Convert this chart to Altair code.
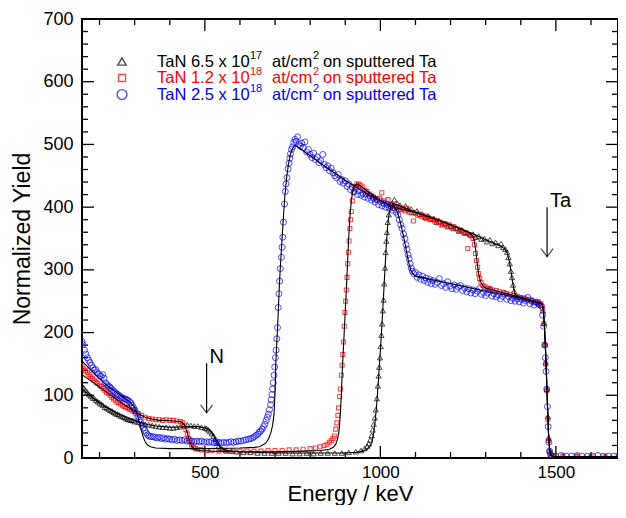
import altair as alt
import pandas as pd

# ---------------- data ----------------
# TaN 6.5e17 (black triangles)
tri_energy = [
    150, 155, 160, 165, 170, 175, 180, 185, 190, 195,
    200, 205, 210, 215, 220, 225, 230, 235, 240, 245,
    250, 255, 260, 265, 270, 275, 280, 285, 290, 295,
    300, 310, 320, 330, 340, 350, 360, 370, 380, 390,
    400, 410, 420, 430, 440, 450, 460, 470, 480, 490,
    500, 505, 510, 515, 520, 525, 530, 535, 540, 545,
    550, 560, 575, 590, 610, 630, 650, 670, 690, 710,
    730, 750, 770, 790, 810, 830, 850, 870, 890, 910,
    930, 945, 955, 962, 967, 971, 975, 978, 981, 984,
    987, 990, 993, 995, 997, 999, 1001, 1003, 1005, 1007,
    1009, 1011, 1013, 1015, 1017, 1019, 1021, 1024, 1028, 1033,
    1040, 1048, 1056, 1064, 1072, 1080, 1088, 1096, 1104, 1112,
    1120, 1128, 1136, 1144, 1152, 1160, 1168, 1176, 1184, 1192,
    1200, 1208, 1216, 1224, 1232, 1240, 1248, 1256, 1264, 1272,
    1280, 1288, 1296, 1304, 1312, 1320, 1328, 1336, 1344, 1350,
    1356, 1361, 1365, 1369, 1372, 1375, 1378, 1381, 1385, 1392,
    1400, 1410, 1420, 1430, 1440, 1450, 1458, 1463, 1466, 1469,
    1471, 1474, 1477, 1479, 1482, 1486, 1495, 1520, 1560, 1600,
    1640, 1680,
]
tri_yield = [
    115, 112, 108, 105, 101, 99, 96, 95, 92, 90,
    88, 86, 84, 81, 80, 78, 76, 75, 73, 71,
    70, 69, 67, 66, 65, 63, 62, 61, 60, 60,
    58, 57, 55, 54, 53, 52, 51, 50, 49, 49,
    48, 48, 49, 50, 52, 53, 52, 51, 51, 49,
    48, 47, 45, 42, 39, 35, 30, 24, 19, 16,
    14, 12, 11, 10, 9, 9, 8, 8, 8, 8,
    8, 7, 7, 8, 7, 8, 8, 8, 8, 9,
    10, 12, 15, 19, 23, 29, 36, 45, 54, 64,
    77, 95, 115, 131, 145, 160, 178, 196, 214, 235,
    252, 278, 303, 328, 346, 360, 376, 388, 399, 406,
    412, 406, 403, 399, 402, 396, 397, 392, 394, 389,
    389, 384, 386, 381, 382, 376, 378, 372, 374, 369,
    370, 366, 367, 362, 364, 359, 360, 356, 357, 352,
    354, 349, 350, 345, 348, 342, 344, 339, 342, 336,
    333, 328, 320, 310, 298, 288, 276, 266, 259, 257,
    256, 254, 253, 251, 249, 248, 244, 235, 215, 182,
    152, 110, 66, 32, 12, 5, 3, 3, 3, 2,
    2, 2,
]

# TaN 1.2e18 (red squares)
sq_energy = [
    150, 155, 160, 165, 170, 175, 180, 185, 190, 195,
    200, 205, 210, 215, 220, 225, 230, 235, 240, 245,
    250, 255, 260, 265, 270, 275, 280, 285, 290, 295,
    300, 310, 320, 330, 340, 350, 360, 370, 380, 390,
    400, 410, 420, 430, 437, 442, 446, 450, 454, 458,
    462, 467, 473, 480, 490, 505, 520, 540, 560, 580,
    600, 620, 640, 660, 680, 700, 720, 740, 760, 780,
    800, 815, 828, 840, 848, 855, 860, 865, 869, 873,
    876, 879, 881, 884, 886, 889, 891, 893, 895, 897,
    899, 901, 903, 905, 907, 909, 911, 913, 915, 917,
    920, 924, 928, 933, 938, 944, 950, 956, 962, 968,
    974, 980, 986, 992, 998, 1004, 1010, 1016, 1022, 1028,
    1034, 1040, 1046, 1052, 1058, 1064, 1070, 1076, 1082, 1088,
    1094, 1100, 1106, 1112, 1118, 1124, 1130, 1136, 1142, 1148,
    1154, 1160, 1166, 1172, 1178, 1184, 1190, 1196, 1202, 1208,
    1214, 1220, 1226, 1232, 1238, 1244, 1249, 1254, 1259, 1264,
    1268, 1271, 1274, 1277, 1280, 1283, 1287, 1292, 1298, 1305,
    1312, 1320, 1330, 1340, 1350, 1360, 1370, 1380, 1390, 1400,
    1410, 1420, 1430, 1440, 1450, 1457, 1462, 1466, 1469, 1471,
    1474, 1477, 1479, 1482, 1486, 1495, 1520, 1560, 1600, 1640,
    1680,
]
sq_yield = [
    146, 142, 139, 136, 133, 130, 127, 124, 121, 119,
    116, 114, 111, 108, 105, 103, 100, 97, 94, 92,
    89, 88, 86, 84, 82, 81, 80, 78, 77, 75,
    74, 71, 68, 65, 63, 62, 61, 61, 60, 61,
    60, 60, 59, 58, 56, 51, 45, 38, 31, 26,
    21, 17, 15, 14, 13, 12, 12, 11, 11, 11,
    11, 11, 11, 11, 12, 12, 12, 13, 13, 14,
    15, 16, 18, 20, 22, 25, 28, 31, 35, 46,
    56, 68, 80, 98, 110, 132, 148, 165, 185, 210,
    232, 250, 268, 288, 310, 328, 346, 366, 380, 393,
    410, 424, 432, 437, 437, 435, 432, 427, 425, 421,
    419, 416, 413, 411, 414, 423, 410, 406, 412, 404,
    403, 401, 399, 400, 396, 397, 394, 398, 392, 391,
    378, 390, 387, 388, 385, 386, 382, 384, 380, 381,
    378, 379, 375, 376, 373, 374, 370, 372, 368, 369,
    366, 365, 363, 362, 360, 358, 334, 356, 354, 350,
    340, 326, 315, 304, 294, 286, 280, 275, 273, 271,
    270, 268, 267, 265, 264, 262, 261, 259, 258, 256,
    255, 253, 252, 250, 249, 246, 238, 214, 180, 150,
    108, 62, 28, 10, 4, 3, 3, 3, 2, 2,
    2,
]

# TaN 2.5e18 (blue circles)
circ_energy = [
    150, 153, 157, 161, 165, 169, 173, 177, 181, 185,
    189, 193, 197, 201, 205, 209, 213, 217, 221, 225,
    229, 233, 237, 241, 245, 249, 253, 257, 261, 265,
    269, 273, 277, 281, 285, 289, 293, 297, 301, 305,
    309, 313, 317, 321, 325, 329, 333, 337, 341, 346,
    352, 358, 364, 370, 376, 382, 388, 394, 400, 407,
    414, 421, 428, 435, 442, 449, 456, 463, 470, 477,
    484, 491, 498, 505, 512, 519, 526, 533, 540, 547,
    554, 561, 568, 575, 582, 589, 596, 603, 610, 617,
    624, 630, 636, 641, 646, 651, 655, 659, 663, 667,
    671, 675, 678, 681, 684, 687, 689, 691, 693, 695,
    697, 699, 701, 703, 705, 707, 709, 711, 713, 715,
    718, 720, 722, 724, 727, 729, 731, 734, 737, 740,
    742, 744, 747, 750, 753, 757, 760, 764, 768, 772,
    776, 780, 785, 790, 795, 800, 805, 810, 815, 820,
    825, 830, 836, 840, 845, 850, 855, 860, 865, 870,
    875, 880, 885, 890, 895, 900, 905, 910, 915, 920,
    925, 930, 935, 940, 945, 950, 955, 960, 965, 970,
    975, 980, 985, 990, 995, 1000, 1005, 1010, 1015, 1020,
    1025, 1030, 1035, 1040, 1045, 1050, 1054, 1058, 1062, 1066,
    1070, 1073, 1076, 1079, 1082, 1085, 1088, 1091, 1095, 1100,
    1105, 1110, 1115, 1120, 1125, 1130, 1135, 1140, 1145, 1150,
    1156, 1162, 1168, 1174, 1180, 1186, 1192, 1198, 1204, 1210,
    1216, 1222, 1228, 1234, 1240, 1246, 1252, 1258, 1264, 1270,
    1276, 1282, 1288, 1294, 1300, 1306, 1312, 1318, 1324, 1330,
    1336, 1342, 1348, 1354, 1360, 1366, 1372, 1378, 1384, 1390,
    1396, 1402, 1408, 1414, 1420, 1426, 1432, 1438, 1444, 1450,
    1455, 1459, 1462, 1465, 1468, 1470, 1472, 1474, 1476, 1478,
    1480, 1482, 1485, 1490, 1500, 1515, 1530, 1545, 1560, 1575,
    1590, 1605, 1620, 1635, 1650, 1665, 1680, 1695,
]
circ_yield = [
    186, 181, 172, 166, 160, 156, 152, 148, 144, 140,
    141, 136, 134, 131, 130, 133, 127, 120, 117, 115,
    113, 111, 108, 106, 104, 102, 101, 99, 97, 96,
    95, 94, 93, 92, 90, 88, 84, 80, 76, 71,
    66, 61, 57, 52, 48, 44, 40, 37, 35, 34,
    34, 33, 32, 33, 31, 32, 30, 31, 30, 29,
    30, 28, 29, 28, 29, 27, 28, 27, 26, 27,
    26, 27, 25, 26, 25, 26, 24, 25, 25, 24,
    25, 24, 25, 26, 25, 26, 27, 27, 28, 29,
    30, 31, 32, 34, 36, 38, 41, 43, 46, 50,
    54, 60, 65, 70, 77, 85, 93, 101, 110, 120,
    132, 145, 160, 172, 190, 208, 240, 262, 282, 302,
    320, 336, 352, 376, 405, 425, 437, 447, 461, 470,
    478, 485, 492, 496, 503, 508, 505, 512, 500, 497,
    502, 495, 504, 488, 492, 484, 479, 486, 476, 480,
    471, 474, 484, 468, 463, 466, 458, 462, 455, 450,
    447, 452, 441, 444, 438, 442, 433, 437, 428, 432,
    424, 430, 420, 426, 419, 422, 416, 421, 414, 418,
    411, 415, 408, 412, 404, 409, 402, 406, 400, 404,
    398, 402, 395, 399, 392, 388, 380, 372, 366, 357,
    350, 340, 333, 324, 318, 310, 303, 298, 294, 296,
    288, 292, 285, 290, 283, 287, 280, 285, 278, 283,
    277, 280, 286, 275, 278, 272, 281, 274, 270, 276,
    269, 273, 275, 267, 271, 265, 270, 263, 268, 262,
    266, 270, 261, 264, 259, 263, 268, 258, 262, 257,
    260, 254, 258, 262, 253, 257, 251, 255, 250, 254,
    249, 253, 247, 251, 256, 246, 250, 244, 248, 246,
    244, 242, 228, 210, 180, 160, 138, 110, 82, 50,
    25, 11, 5, 3, 3, 4, 3, 3, 4, 3,
    3, 3, 4, 3, 3, 3, 4, 3,
]

# simulated fits (thin black lines)
fit_tri_energy = [
    150, 165, 180, 200, 220, 240, 260, 280, 300, 320,
    340, 360, 380, 400, 420, 440, 460, 480, 500, 510,
    518, 525, 532, 540, 548, 560, 600, 700, 800, 900,
    930, 950, 962, 970, 976, 981, 985, 989, 993, 997,
    1001, 1005, 1009, 1013, 1017, 1021, 1025, 1030, 1036, 1045,
    1100, 1200, 1270, 1300, 1340, 1355, 1362, 1368, 1373, 1378,
    1383, 1390, 1460, 1464, 1467, 1470, 1473, 1476, 1479, 1482,
    1486, 1495, 1700,
]
fit_tri_yield = [
    110, 103, 96, 88, 81, 75, 69, 64, 60, 56,
    53, 51, 50, 49, 49, 50, 50, 50, 48, 46,
    42, 36, 28, 20, 15, 12, 10, 8, 8, 8,
    9, 11, 14, 18, 25, 40, 58, 82, 112, 145,
    180, 218, 258, 300, 340, 372, 390, 401, 406, 404,
    392, 372, 356, 348, 339, 333, 326, 312, 294, 276,
    262, 257, 246, 238, 215, 180, 135, 85, 40, 14,
    4, 2, 2,
]
fit_sq_energy = [
    150, 170, 190, 210, 230, 250, 270, 290, 310, 330,
    350, 370, 390, 410, 430, 438, 444, 450, 456, 462,
    470, 485, 520, 600, 700, 780, 830, 855, 866, 873,
    878, 882, 885, 888, 890, 892, 895, 897, 900, 902,
    905, 908, 911, 914, 918, 923, 929, 936, 950, 1000,
    1050, 1100, 1150, 1200, 1250, 1262, 1267, 1272, 1276, 1280,
    1285, 1292, 1300, 1400, 1460, 1464, 1467, 1470, 1473, 1476,
    1479, 1482, 1486, 1495, 1700,
]
fit_sq_yield = [
    133, 125, 117, 109, 101, 93, 85, 78, 71, 65,
    62, 60, 60, 59, 58, 56, 50, 40, 28, 19,
    14, 12, 11, 10, 10, 11, 12, 14, 17, 22,
    30, 42, 62, 92, 118, 146, 178, 200, 235, 255,
    292, 330, 363, 390, 414, 429, 436, 437, 431, 410,
    398, 392, 383, 372, 360, 355, 348, 330, 310, 294,
    282, 275, 271, 256, 246, 238, 215, 180, 135, 85,
    40, 14, 4, 2, 2,
]
fit_circ_energy = [
    150, 170, 190, 210, 230, 250, 270, 290, 300, 306,
    312, 318, 324, 330, 336, 345, 360, 400, 500, 600,
    640, 656, 666, 674, 682, 688, 693, 697, 700, 702,
    705, 707, 710, 713, 716, 720, 724, 728, 733, 738,
    744, 750, 756, 762, 780, 800, 850, 900, 950, 1000,
    1040, 1047, 1054, 1061, 1068, 1075, 1081, 1087, 1093, 1100,
    1200, 1300, 1400, 1460, 1464, 1467, 1470, 1473, 1476, 1479,
    1482, 1486, 1495, 1700,
]
fit_circ_yield = [
    155, 143, 132, 121, 112, 104, 96, 87, 81, 72,
    60, 46, 34, 26, 21, 18, 16, 15, 15, 16,
    17, 18, 21, 24, 31, 40, 52, 70, 105, 150,
    185, 205, 245, 283, 314, 350, 386, 418, 447, 468,
    485, 494, 498, 497, 490, 482, 462, 443, 425, 410,
    400, 394, 382, 366, 348, 328, 311, 299, 293, 290,
    278, 266, 255, 246, 238, 215, 180, 135, 85, 40,
    14, 4, 2, 2,
]

# legend: film dose (mantissa, exponent) and colours / symbols
legend_mantissa = ["6.5", "1.2", "2.5"]
legend_exponent = ["17", "18", "18"]
legend_colors = ["black", "red", "blue"]
legend_shapes = ["triangle-up", "square", "circle"]

# annotation arrows: element, energy, arrow top, arrow tip
arrow_labels = ["N", "Ta"]
arrow_energy = [505, 1475]
arrow_top = [151, 400]
arrow_tip = [72, 321]

x_ticks_major = [500, 1000, 1500]
x_ticks_minor = [200, 300, 400, 600, 700, 800, 900, 1100, 1200, 1300, 1400, 1600]
y_ticks_major = [0, 100, 200, 300, 400, 500, 600, 700]
y_ticks_minor = [v for v in range(20, 700, 20) if v % 100 != 0]

# ---------------- chart ----------------
FONT = "Liberation Sans, Arial, Helvetica, sans-serif"
# the reference's frame runs past the right edge of the picture; the visible
# part (150 .. ~1677 keV) is drawn at the same keV-per-pixel scale
X_MAX = 1677
W, H = 536, 439

for a, b in [(tri_energy, tri_yield), (sq_energy, sq_yield), (circ_energy, circ_yield),
             (fit_tri_energy, fit_tri_yield), (fit_sq_energy, fit_sq_yield),
             (fit_circ_energy, fit_circ_yield)]:
    if len(a) != len(b):
        raise ValueError(f"length mismatch {len(a)} vs {len(b)}")

xs = alt.Scale(domain=[150, X_MAX], nice=False, zero=False)
ys = alt.Scale(domain=[0, 700], nice=False, zero=False)

x_axis = alt.Axis(values=x_ticks_major, title="Energy / keV", format="d",
                  labelFontSize=17, titleFontSize=22, labelFont=FONT, titleFont=FONT,
                  labelColor="black", titleColor="black", titleFontWeight="normal",
                  ticks=False, tickSize=0, domain=False, grid=False,
                  labelPadding=6, titlePadding=3)
y_axis = alt.Axis(values=y_ticks_major, title="Normalized Yield", format="d",
                  labelFontSize=18, titleFontSize=23, labelFont=FONT, titleFont=FONT,
                  labelColor="black", titleColor="black", titleFontWeight="normal",
                  ticks=False, tickSize=0, domain=False, grid=False,
                  labelPadding=9, titlePadding=8)

X = alt.X("energy:Q", scale=xs, axis=x_axis)
Y = alt.Y("yield:Q", scale=ys, axis=y_axis)

df_tri = pd.DataFrame({"energy": tri_energy, "yield": tri_yield})
df_sq = pd.DataFrame({"energy": sq_energy, "yield": sq_yield})
df_circ = pd.DataFrame({"energy": circ_energy, "yield": circ_yield})
df_fit = pd.concat([
    pd.DataFrame({"energy": fit_tri_energy, "yield": fit_tri_yield, "fit": "a"}),
    pd.DataFrame({"energy": fit_sq_energy, "yield": fit_sq_yield, "fit": "b"}),
    pd.DataFrame({"energy": fit_circ_energy, "yield": fit_circ_yield, "fit": "c"}),
])

tri = alt.Chart(df_tri).mark_point(shape="triangle-up", filled=False, color="black",
                                   size=28, strokeWidth=1, clip=True).encode(x=X, y=Y)
sq = alt.Chart(df_sq).mark_point(shape="square", filled=False, color="red",
                                 size=16, strokeWidth=1.1, clip=True).encode(x=X, y=Y)
circ = alt.Chart(df_circ).mark_point(shape="circle", filled=False, color="blue",
                                     size=36, strokeWidth=1, clip=True).encode(x=X, y=Y)
fits = alt.Chart(df_fit).mark_line(color="black", strokeWidth=1.1, clip=True).encode(
    x=X, y=Y, detail="fit:N", order="energy:Q")

# inward ticks on all four sides
def yt(vals, x0, x1):
    return alt.Chart(pd.DataFrame({"v": vals})).mark_rule(color="black", strokeWidth=1.3).encode(
        y=alt.Y("v:Q", scale=ys, axis=y_axis), x=alt.value(x0), x2=alt.value(x1))

def xt(vals, y0, y1):
    return alt.Chart(pd.DataFrame({"v": vals})).mark_rule(color="black", strokeWidth=1.3).encode(
        x=alt.X("v:Q", scale=xs, axis=x_axis), y=alt.value(y0), y2=alt.value(y1))

ticks = [
    yt(y_ticks_major, 0, 12), yt(y_ticks_minor, 0, 6),
    yt(y_ticks_major, W - 12, W), yt(y_ticks_minor, W - 6, W),
    xt(x_ticks_major, H, H - 12), xt(x_ticks_minor, H, H - 6),
    xt(x_ticks_major, 0, 12), xt(x_ticks_minor, 0, 6),
]

df_arrow = pd.DataFrame({"label": arrow_labels, "energy": arrow_energy,
                         "top": arrow_top, "tip": arrow_tip})
shaft = alt.Chart(df_arrow).mark_rule(color="black", strokeWidth=1.2).encode(
    x=alt.X("energy:Q", scale=xs, axis=x_axis),
    y=alt.Y("top:Q", scale=ys, axis=y_axis), y2="tip:Q")
head = alt.Chart(df_arrow).mark_point(shape="M-0.75,-1L0,0L0.75,-1", filled=False,
                                      color="black", size=256, strokeWidth=1.2).encode(
    x=alt.X("energy:Q", scale=xs, axis=x_axis), y=alt.Y("tip:Q", scale=ys, axis=y_axis))
arrow_text = alt.Chart(df_arrow).mark_text(font=FONT, fontSize=20, align="left",
                                           baseline="alphabetic", dx=3, dy=0,
                                           color="black").encode(
    x=alt.X("energy:Q", scale=xs, axis=x_axis), y=alt.Y("top:Q", scale=ys, axis=y_axis),
    text="label:N")

# custom legend (main text with raised exponents)
legend_layers = []
sym_sizes = {"triangle-up": 70, "square": 50, "circle": 95}
LX = 75  # text start, px from plot left
for i, (man, ex, col, shp) in enumerate(zip(legend_mantissa, legend_exponent,
                                             legend_colors, legend_shapes)):
    ly = 42.5 + 16.5 * i
    pieces = [
        (f"TaN {man} x 10", LX, 0, 16.5),
        (ex, LX + 93, -6, 11),
        ("at/cm", LX + 115, 0, 16.5),
        ("2", LX + 156, -6, 11),
        ("on sputtered Ta", LX + 166, 0, 16.5),
    ]
    legend_layers.append(
        alt.Chart(pd.DataFrame({"t": [shp]})).mark_point(
            shape=shp, filled=False, color=col, size=sym_sizes[shp], strokeWidth=1.4
        ).encode(x=alt.value(40), y=alt.value(ly)))
    for txt, px, dy, fs in pieces:
        legend_layers.append(
            alt.Chart(pd.DataFrame({"t": [txt]})).mark_text(
                font=FONT, fontSize=fs, align="left", baseline="middle", color=col
            ).encode(x=alt.value(px), y=alt.value(ly + dy), text="t:N"))

chart = alt.layer(
    *ticks, tri, sq, circ, fits, shaft, head, arrow_text, *legend_layers
).properties(
    width=W, height=H,
    autosize=alt.AutoSizeParams(type="none"),
    padding={"left": 74, "top": 11, "right": 0, "bottom": 47},
).configure_view(stroke="black", strokeWidth=2)

chart.save("out.html", embed_options={"renderer": "svg", "actions": False})
